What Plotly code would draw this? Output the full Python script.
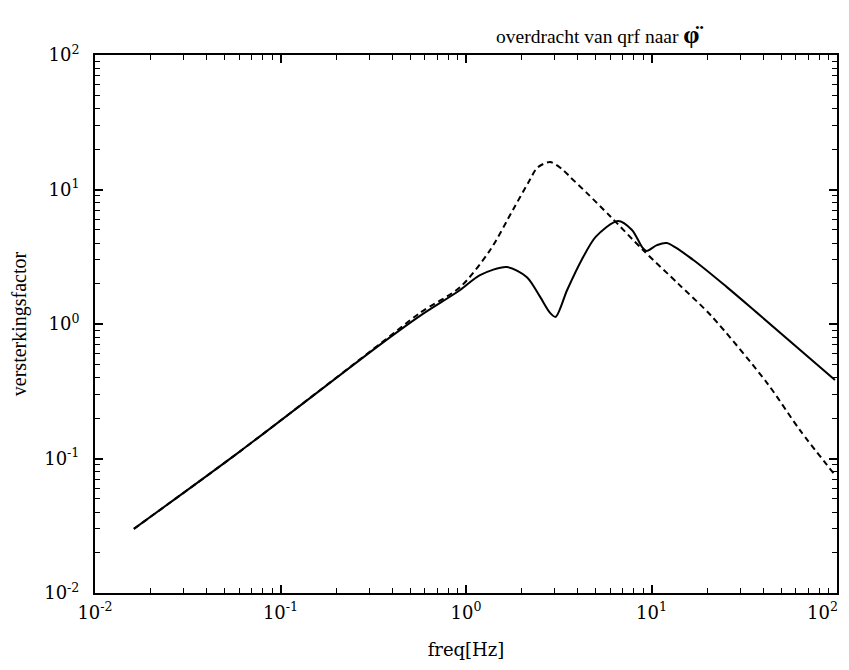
import plotly.graph_objects as go

# solid curve
solid_freq = [0.0162, 0.0605, 0.343, 0.565, 0.93, 1.19, 1.66, 2.13, 2.51, 2.84, 3.04,
              3.51, 4.2, 5.0, 6.59, 7.85, 8.9, 9.4, 10.7, 12.1, 16.8, 25.5, 37.1, 97.5]
solid_gain = [0.030, 0.113, 0.70, 1.15, 1.79, 2.31, 2.65, 2.23, 1.59, 1.21, 1.13,
              1.79, 2.99, 4.44, 5.84, 5.0, 3.73, 3.49, 3.86, 4.0, 2.99, 1.88, 1.21, 0.384]

# dashed curve
dash_freq = [0.0162, 0.0605, 0.343, 0.565, 0.93, 1.35, 1.79, 2.21, 2.42, 2.84, 3.33, 3.64,
             4.49, 5.97, 9.0, 14.0, 21.0, 42.0, 63.0, 97.0]
dash_gain = [0.030, 0.113, 0.71, 1.21, 1.88, 3.55, 7.05, 11.8, 14.5, 16.0, 14.0, 12.4,
             9.4, 6.35, 3.55, 1.98, 1.15, 0.364, 0.163, 0.076]

decades = [0.01, 0.1, 1, 10, 100]
decade_labels = ["10<sup>-2</sup>", "10<sup>-1</sup>", "10<sup>0</sup>", "10<sup>1</sup>", "10<sup>2</sup>"]
x_decade_labels = decade_labels[:-1] + [""]
minor_vals = [m * d for d in [0.01, 0.1, 1, 10] for m in range(2, 10)]

fig = go.Figure()
fig.add_trace(go.Scatter(x=solid_freq, y=solid_gain, mode="lines",
                         line=dict(color="black", width=2, shape="spline", smoothing=0.8),
                         showlegend=False))
fig.add_trace(go.Scatter(x=dash_freq, y=dash_gain, mode="lines",
                         line=dict(color="black", width=2, dash="6px,4px", shape="spline", smoothing=0.8),
                         showlegend=False))

tick_font = dict(family="DejaVu Serif", size=18, color="black")
axis_common = dict(
    type="log", showgrid=False, zeroline=False, automargin=False,
    showline=True, linecolor="black", linewidth=2, mirror="ticks",
    ticks="inside", ticklen=8, tickwidth=1.5, tickcolor="black",
    tickvals=decades, ticklabeloverflow="allow",
    tickfont=tick_font,
    minor=dict(tickvals=minor_vals, ticks="inside", ticklen=5, tickwidth=1.2, tickcolor="black"),
)

fig.update_xaxes(**axis_common, ticktext=x_decade_labels, range=[-2, 2], ticklabelstandoff=2,
                 title=dict(text="freq[Hz]", font=dict(family="DejaVu Serif", size=18, color="black"),
                            standoff=22))
fig.update_yaxes(**axis_common, ticktext=decade_labels, range=[-2, 2], ticklabelstandoff=10,
                 title=dict(text="versterkingsfactor", font=dict(family="Liberation Serif", size=20, color="black"),
                            standoff=12))

# last x tick label, nudged left so it stays inside the page
fig.add_annotation(text=decade_labels[-1], xref="x", yref="paper", x=2, y=0,
                   xanchor="right", yanchor="top", xshift=3, yshift=-4,
                   showarrow=False, font=tick_font)

fig.add_annotation(
    text='overdracht van qrf naar <span style="font-size:26px"><b>φ̈</b></span>',
    xref="paper", yref="paper", x=0.68, y=1.0, yanchor="bottom", xanchor="center",
    yshift=4, showarrow=False,
    font=dict(family="Liberation Serif", size=19.5, color="black"),
)

# page body has an 8px margin, so the figure is offset by 8px
fig.update_layout(
    width=833, height=654,
    margin=dict(l=87, r=4, t=47, b=69),
    paper_bgcolor="white", plot_bgcolor="white",
)

fig.write_html("out.html")
